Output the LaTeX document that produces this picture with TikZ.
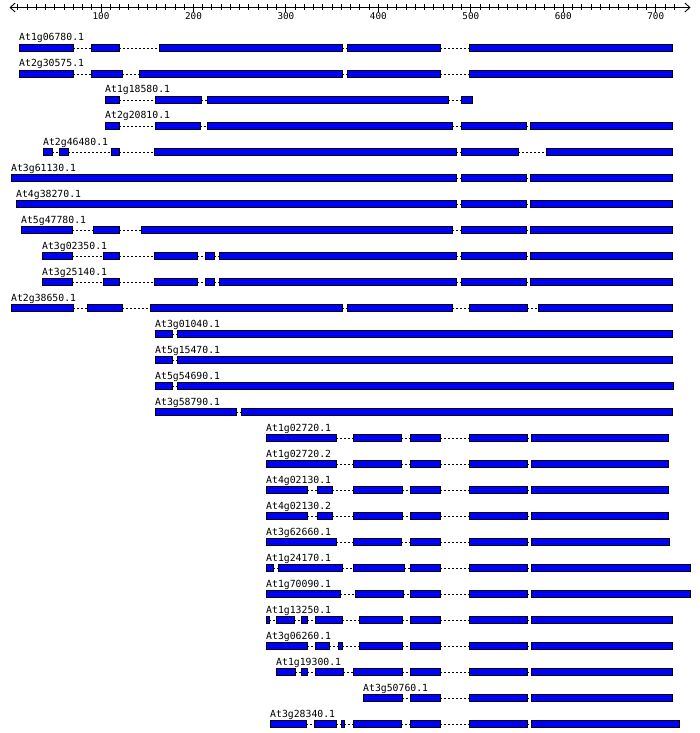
\documentclass[tikz,border=0pt]{standalone}
\usepackage{fontspec}
\setmonofont{DejaVu Sans Mono}
\usetikzlibrary{arrows.meta}
\tikzset{
  exon/.style={draw=black, fill=blue, line width=0.9pt, rectangle, inner sep=0pt, outer sep=0pt, minimum height=7pt, anchor=west},
  intron/.style={draw=black, line width=0.9pt, dash pattern=on 2pt off 2pt},
  genelabel/.style={font=\ttfamily\fontsize{9.8}{10}\selectfont, inner sep=0pt, anchor=base west},
  ticklabel/.style={font=\ttfamily\fontsize{9.3}{10}\selectfont, inner sep=0pt, anchor=base},
  axisline/.style={draw=black, line width=0.9pt, {Straight Barb[length=5pt,width=9pt]}-{Straight Barb[length=5pt,width=9pt]}},
  tickline/.style={draw=black, line width=0.9pt}
}
\newcommand\generow[3]{%
  \pgfmathsetmacro\rowy{48+26*(#1-1)}%
  \foreach \a/\b [count=\i, remember=\i as \j (initially 0)] in {#3} {%
    \ifnum\i=1
      \node[genelabel] (r#1lab) at (\a,\rowy-7) {#2};
    \fi
    \node[exon, minimum width={(\b-\a)*1pt}] (r#1e\i) at (\a,\rowy) {};
    \ifnum\i>1
      \draw[intron] (r#1e\j.east) -- (r#1e\i.west);
    \fi
  }%
}
\begin{document}
\begin{tikzpicture}[x=1pt,y=-1pt]
\useasboundingbox (0,0) rectangle (700,733);
\fill[white] (0,0) rectangle (700,733);
% axis
\coordinate (axL) at (9.5,7.5);
\coordinate (axR) at (690.5,7.5);
\draw[axisline] (axL) -- (axR);
\foreach \v in {10,20,...,720} {
  \pgfmathsetmacro\xx{8.55+0.9245*\v}
  \pgfmathtruncatemacro\md{mod(\v,100)}
  \ifnum\md=0
    \draw[tickline] (\xx,3.8) -- (\xx,12.5);
    \node[ticklabel] (t\v) at (\xx,20) {\v};
  \else
    \draw[tickline] (\xx,3.8) -- (\xx,10);
  \fi
}
\generow{1}{At1g06780.1}{19/73,91/119,159/342,347/440,469/672}
\generow{2}{At2g30575.1}{19/73,91/122,139/342,347/440,469/672}
\generow{3}{At1g18580.1}{105/119,155/201,207/448,461/472}
\generow{4}{At2g20810.1}{105/119,155/200,207/452,461/526,530/672}
\generow{5}{At2g46480.1}{43/52,59/68,111/119,154/456,461/518,546/672}
\generow{6}{At3g61130.1}{11/456,461/526,530/672}
\generow{7}{At4g38270.1}{16/456,461/526,530/672}
\generow{8}{At5g47780.1}{21/72,93/119,141/452,461/526,530/672}
\generow{9}{At3g02350.1}{42/72,103/119,154/197,205/214,219/456,461/526,530/672}
\generow{10}{At3g25140.1}{42/72,103/119,154/197,205/214,219/456,461/526,530/672}
\generow{11}{At2g38650.1}{11/73,87/122,150/342,347/452,469/527,538/672}
\generow{12}{At3g01040.1}{155/172,177/672}
\generow{13}{At5g15470.1}{155/172,177/672}
\generow{14}{At5g54690.1}{155/172,177/673}
\generow{15}{At3g58790.1}{155/236,241/672}
\generow{16}{At1g02720.1}{266/336,353/401,410/440,469/527,531/668}
\generow{17}{At1g02720.2}{266/336,353/401,410/440,469/527,531/668}
\generow{18}{At4g02130.1}{266/307,317/332,353/402,410/440,469/527,531/668}
\generow{19}{At4g02130.2}{266/307,317/332,353/402,410/440,469/527,531/668}
\generow{20}{At3g62660.1}{266/336,353/401,410/440,469/527,531/669}
\generow{21}{At1g24170.1}{266/273,278/342,353/404,410/440,469/527,531/690}
\generow{22}{At1g70090.1}{266/340,355/403,410/440,469/527,531/690}
\generow{23}{At1g13250.1}{266/269,276/294,301/307,315/342,359/402,410/440,469/527,531/672}
\generow{24}{At3g06260.1}{266/307,315/329,338/342,359/402,410/440,469/527,531/672}
\generow{25}{At1g19300.1}{276/295,301/307,315/343,353/402,410/440,469/527,531/672}
\generow{26}{At3g50760.1}{363/402,410/440,469/527,531/672}
\generow{27}{At3g28340.1}{270/306,314/336,341/344,353/401,410/440,469/527,531/679}
\end{tikzpicture}
\end{document}
